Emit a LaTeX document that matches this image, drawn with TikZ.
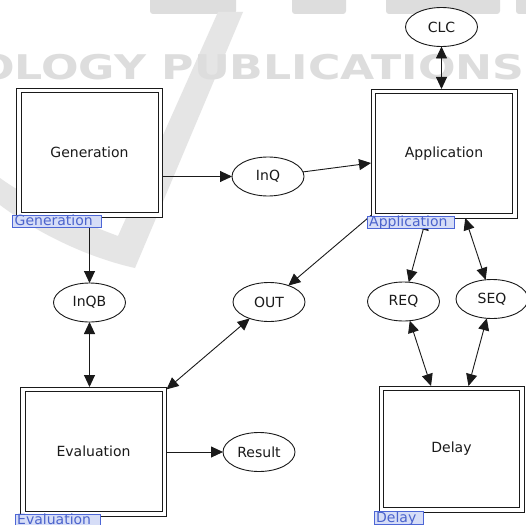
\documentclass[tikz,border=0pt]{standalone}
\usepackage{fontspec}
\usepackage{graphicx}
\setmainfont{DejaVu Sans}
\usetikzlibrary{arrows.meta,shapes.geometric}

\definecolor{ink}{HTML}{1A1A1A}
\definecolor{tagfill}{HTML}{D6DDF7}
\definecolor{tagline}{HTML}{4D66D6}
\definecolor{tagtext}{HTML}{4B63CC}
\definecolor{wm}{HTML}{DDDDDD}
\definecolor{wmlight}{HTML}{E5E5E5}

\tikzset{
  lbl/.style={font=\fontsize{14}{16}\selectfont, text=ink},
  module/.style={rectangle, draw=ink, line width=0.9pt, fill=white,
    minimum width=146pt, minimum height=129pt, inner sep=0pt, outer sep=0pt, lbl,
    path picture={\draw[ink, line width=0.9pt]
      ([shift={(4.5pt,-4.5pt)}]path picture bounding box.north west) rectangle
      ([shift={(-4.5pt,4.5pt)}]path picture bounding box.south east);}},
  place/.style={ellipse, draw=ink, line width=0.9pt, fill=white,
    minimum width=72pt, minimum height=39pt, inner sep=0pt, outer sep=0pt, lbl},
  flow/.style={draw=ink, line width=0.9pt, -{Triangle[length=12pt,width=11pt]}},
  bothway/.style={draw=ink, line width=0.9pt,
    {Triangle[length=12pt,width=11pt]}-{Triangle[length=12pt,width=11pt]}},
  tagbox/.style={draw=tagline, fill=tagfill, line width=0.8pt},
  tagtxt/.style={font=\fontsize{14}{16}\selectfont, text=tagtext, inner sep=0pt, anchor=base west},
}

\begin{document}
\begin{tikzpicture}[x=1pt, y=-1pt]
  \useasboundingbox (0,0) rectangle (526,524);
  \fill[white] (0,0) rectangle (526,524);

  % publisher mark in the background
  \fill[wm, rounded corners=3pt] (150,-10) rectangle (236,14);
  \fill[wm, rounded corners=3pt] (292,-10) rectangle (346,14);
  \fill[wm, rounded corners=3pt] (386,-10) rectangle (500,14);
  \fill[wm, rounded corners=3pt] (516,-10) rectangle (530,14);
  \fill[wmlight] (243,12) -- (218,12) -- (118,236)
     .. controls (80,222) and (30,200) .. (0,178) -- (0,205)
     .. controls (40,235) and (90,258) .. (135,268) -- cycle;
  \node[text=wm, inner sep=0pt, anchor=base west,
        font=\bfseries\fontsize{34}{34}\selectfont] (mark) at (-23,80)
        {\scalebox{1.3}[1]{OLOGY PUBLICATIONS}};

  % modules
  \node[module] (gen)   at (89.5,152.5) {Generation};
  \node[module] (app)   at (444,153.5)  {Application};
  \node[module] (eval)  at (93.5,451.5) {Evaluation};
  \node[module, minimum width=145pt, minimum height=126pt] (delay) at (451.5,449) {Delay};

  % places
  \node[place] (clc)    at (441.5,27)  {CLC};
  \node[place] (inq)    at (268,176.5) {InQ};
  \node[place] (inqb)   at (89.5,302.5) {InQB};
  \node[place] (out)    at (269,302)   {OUT};
  \node[place] (req)    at (403.5,301.5) {REQ};
  \node[place] (seq)    at (492,299)   {SEQ};
  \node[place] (result) at (259,452)   {Result};

  % connections
  \draw[bothway] (clc) -- (clc |- app.north);
  \draw[flow] (gen.east |- inq) -- (inq);
  \draw[flow] (inq) -- (app);
  \draw[flow] (gen) -- (inqb);
  \draw[bothway] (inqb) -- (inqb |- eval.north);
  \draw[flow] (app) -- (out);
  \draw[bothway] (out) -- (eval);
  \draw[bothway] (app) -- (req);
  \draw[bothway] (app) -- (seq);
  \draw[bothway] (req) -- (delay);
  \draw[bothway] (seq) -- (delay);
  \draw[flow] (eval.east |- result) -- (result);

  % module name tags
  \draw[tagbox] (12,215) rectangle (101,227);
  \node[tagtxt] (gentag) at (14.5,225.5) {Generation};
  \draw[tagbox] (367,216) rectangle (454,228);
  \node[tagtxt] (apptag) at (369,226.5) {Application};
  \draw[tagbox] (15,514) rectangle (100,526);
  \node[tagtxt] (evaltag) at (17,524.5) {Evaluation};
  \draw[tagbox] (374,511) rectangle (423,524);
  \node[tagtxt] (delaytag) at (376,522) {Delay};
\end{tikzpicture}
\end{document}
